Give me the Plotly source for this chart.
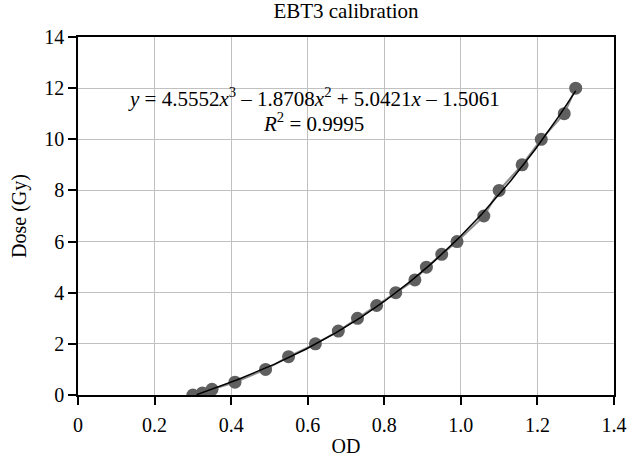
import numpy as np
import plotly.graph_objects as go

od = [0.30, 0.325, 0.35, 0.41, 0.49, 0.55, 0.62, 0.68, 0.73, 0.78, 0.83,
      0.88, 0.91, 0.95, 0.99, 1.06, 1.10, 1.16, 1.21, 1.27, 1.30]
dose = [0.0, 0.08, 0.22, 0.5, 1.0, 1.5, 2.0, 2.5, 3.0, 3.5, 4.0,
        4.5, 5.0, 5.5, 6.0, 7.0, 8.0, 9.0, 10.0, 11.0, 12.0]
fit_coeffs = [4.5552, -1.8708, 5.0421, -1.5061]  # cubic trendline shown on chart
x_ticks = [0, 0.2, 0.4, 0.6, 0.8, 1.0, 1.2, 1.4]
x_tick_text = ["0", "0.2", "0.4", "0.6", "0.8", "1.0", "1.2", "1.4"]
y_ticks = [0, 2, 4, 6, 8, 10, 12, 14]
eq_text = "<i>y</i> = 4.5552<i>x</i><sup>3</sup> – 1.8708<i>x</i><sup>2</sup> + 5.0421<i>x</i> – 1.5061"
r2_text = "<i>R</i><sup>2</sup> = 0.9995"

xf = np.linspace(min(od) + 0.01, max(od), 200)
yf = np.polyval(fit_coeffs, xf)

FONT = "Liberation Serif"
W, H = 628, 457
L, R, T, B = 78, 14, 37, 62

fig = go.Figure()
fig.add_trace(go.Scatter(x=od, y=dose, mode="lines+markers",
                         line=dict(color="#8c8c8c", width=2),
                         marker=dict(color="#5f5f5f", size=13),
                         showlegend=False))
fig.add_trace(go.Scatter(x=xf, y=yf, mode="lines",
                         line=dict(color="black", width=1.5),
                         showlegend=False))

fig.add_annotation(x=0.616, y=11.62, xref="x", yref="y", text=eq_text,
                   showarrow=False, font=dict(family=FONT, size=21, color="black"))
fig.add_annotation(x=0.616, y=10.67, xref="x", yref="y", text=r2_text,
                   showarrow=False, font=dict(family=FONT, size=21, color="black"))

fig.update_layout(
    width=W, height=H,
    margin=dict(l=L, r=R, t=T, b=B),
    paper_bgcolor="white", plot_bgcolor="white",
    font=dict(family=FONT, size=20, color="black"),
    title=dict(text="EBT3 calibration", x=(L + (W - L - R) / 2) / W, xanchor="center",
               y=1 - 11 / H, yanchor="middle", font=dict(family=FONT, size=21)),
)
fig.update_xaxes(range=[0, 1.4], tickvals=x_ticks, ticktext=x_tick_text,
                 showline=True, mirror=True, linecolor="black", linewidth=1.5,
                 ticks="outside", ticklen=8, tickcolor="black", tickwidth=1.5,
                 ticklabelstandoff=3,
                 showgrid=True, gridcolor="#c0c0c0", gridwidth=1,
                 zeroline=False, automargin=False,
                 title=dict(text="OD", standoff=15, font=dict(size=20)))
fig.update_yaxes(range=[0, 14], tickvals=y_ticks,
                 showline=True, mirror=True, linecolor="black", linewidth=1.5,
                 ticks="outside", ticklen=8, tickcolor="black", tickwidth=1.5,
                 showgrid=True, gridcolor="#c0c0c0", gridwidth=1,
                 zeroline=False, automargin=False,
                 title=dict(text="Dose (Gy)", standoff=12, font=dict(size=20)))

# remove the browser's default 8px page margin so the figure sits at the window origin
fig.write_html("out.html", config={"displayModeBar": False},
               post_script="document.body.style.margin='0px';")
